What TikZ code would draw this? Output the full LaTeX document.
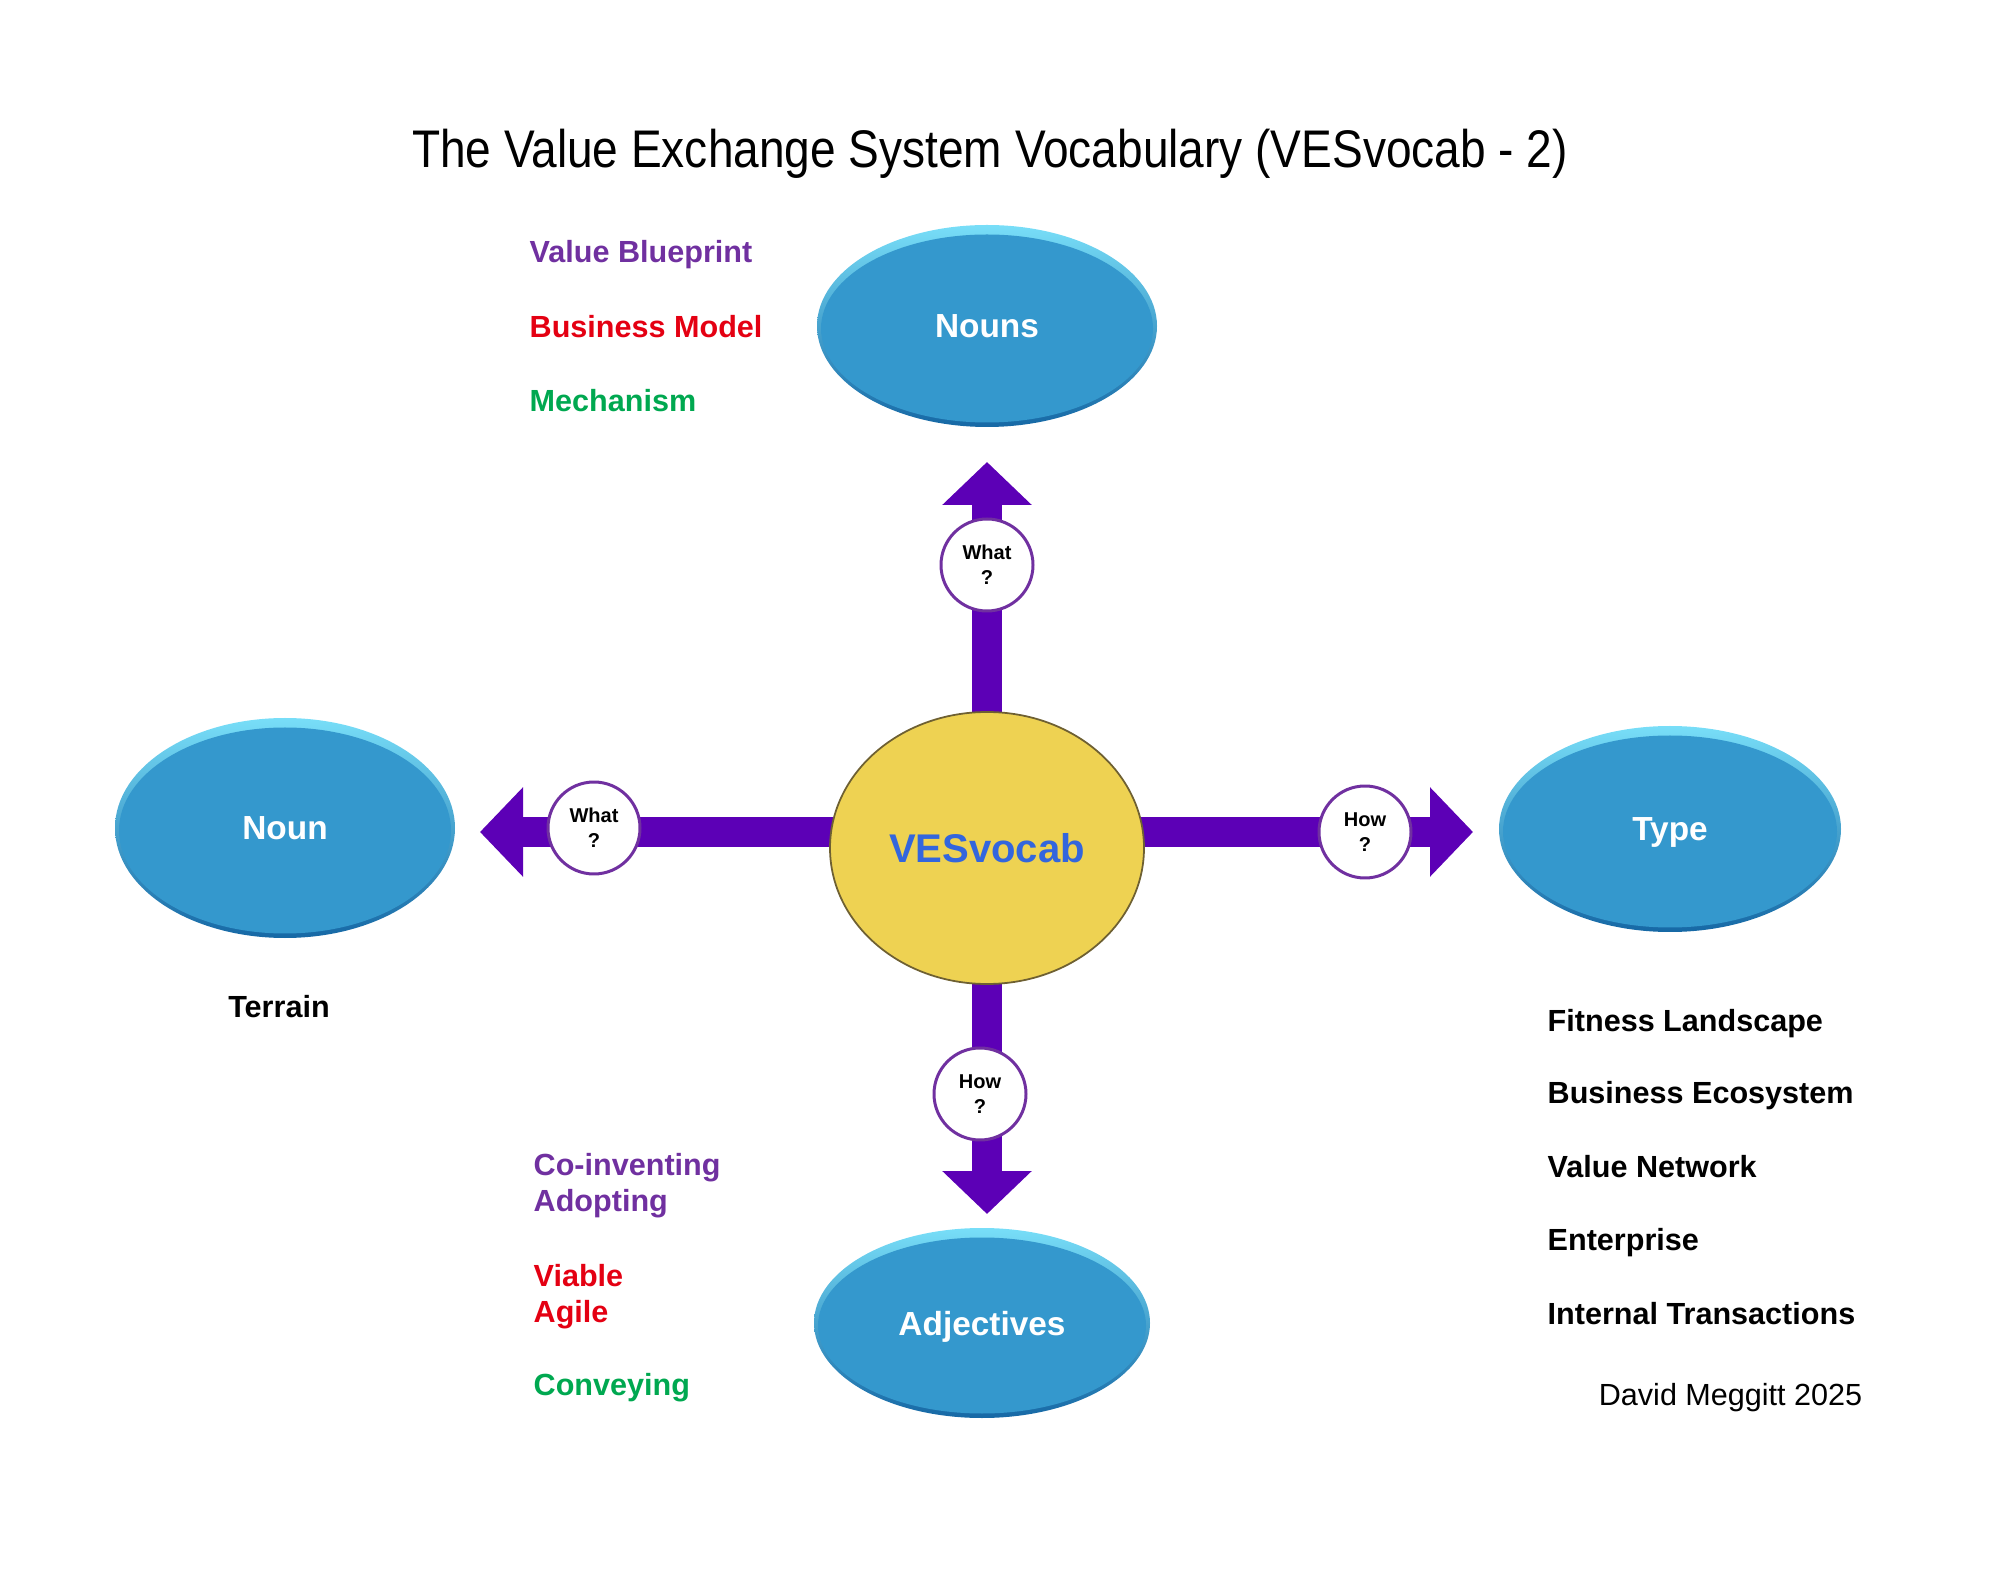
\documentclass[tikz,border=0pt]{standalone}
\usepackage{fontspec}
\setmainfont{Liberation Sans}
\usetikzlibrary{shapes,arrows.meta,backgrounds}

\definecolor{blobblue}{RGB}{52,152,205}
\definecolor{rimtop}{RGB}{120,222,248}
\definecolor{rimbot}{RGB}{22,104,165}
\definecolor{fatpurple}{RGB}{92,0,182}
\definecolor{ringpurple}{RGB}{112,48,160}
\definecolor{vesyellow}{RGB}{238,210,82}
\definecolor{vesedge}{RGB}{110,96,50}
\definecolor{vesblue}{RGB}{51,102,221}
\definecolor{listred}{RGB}{228,0,18}
\definecolor{listgreen}{RGB}{0,168,80}

\newcommand{\blob}[5]{%
  \shade[top color=rimtop,bottom color=rimbot] (#2) ellipse ({#3} and {#4});
  \fill[blobblue] (#2) ++(0,-0.025) ellipse ({#3-0.04} and {#4-0.07});
  \node[blobtext] (#1) at (#2) {#5};}

\begin{document}
\begin{tikzpicture}[
  blobtext/.style={text=white, font=\fontsize{9.5}{11}\selectfont\bfseries, text depth=0pt},
  ring/.style={circle, draw=ringpurple, line width=0.85pt, fill=white, minimum size=0.92cm, inner sep=0pt, align=center, font=\fontsize{5.7}{7.1}\selectfont\bfseries},
  fat/.style={fatpurple, line width=0.3cm, -{Triangle[length=0.43cm,width=0.87cm]}},
  item/.style={anchor=base west, inner sep=0pt, font=\fontsize{8.7}{10}\selectfont\bfseries}]
\useasboundingbox (0,0) rectangle (20,-15.71);

\node[anchor=base, inner sep=0pt] (title) at (9.90,-1.68) {\scalebox{1}[1.15]{\fontsize{13.1}{15}\selectfont The Value Exchange System Vocabulary (VESvocab - 2)}};

\blob{nouns}{9.87,-3.26}{1.70}{1.01}{Nouns}
\blob{noun}{2.85,-8.28}{1.70}{1.10}{Noun}
\blob{type}{16.70,-8.29}{1.71}{1.03}{Type}
\blob{adj}{9.82,-13.23}{1.68}{0.95}{Adjectives}

\node[ellipse, draw=vesedge, line width=0.5pt, fill=vesyellow, minimum width=3.14cm, minimum height=2.72cm, text=vesblue, font=\fontsize{11.4}{13}\selectfont\bfseries] (ves) at (9.87,-8.48) {VESvocab};

\coordinate (uptip) at (9.87,-4.62);
\coordinate (lefttip) at (4.80,-8.32);
\coordinate (righttip) at (14.73,-8.32);
\coordinate (downtip) at (9.87,-12.14);

\node[ring] (what1) at (9.87,-5.65) {What\\?};
\node[ring] (what2) at (5.94,-8.28) {What\\?};
\node[ring] (how1) at (13.65,-8.32) {How\\?};
\node[ring] (how2) at (9.80,-10.94) {How\\?};

\begin{scope}[on background layer]
\draw[fat] (ves.center) -- (uptip);
\draw[fat] (ves.center |- lefttip) -- (lefttip);
\draw[fat] (ves.center |- righttip) -- (righttip);
\draw[fat] (ves.center) -- (downtip);
\end{scope}

\node[item, text=ringpurple] (vb) at (5.29,-2.63) {Value Blueprint};
\node[item, text=listred] (bm) at (5.29,-3.38) {Business Model};
\node[item, text=listgreen] (mech) at (5.29,-4.12) {Mechanism};

\node[item, anchor=base] (terrain) at (2.79,-10.18) {Terrain};

\node[item] (fl) at (15.47,-10.31) {Fitness Landscape};
\node[item] (be) at (15.47,-11.03) {Business Ecosystem};
\node[item] (vn) at (15.47,-11.77) {Value Network};
\node[item] (ent) at (15.47,-12.50) {Enterprise};
\node[item] (it) at (15.47,-13.24) {Internal Transactions};
\node[anchor=base east, inner sep=0pt, font=\fontsize{8.7}{10}\selectfont] (dm) at (18.63,-14.05) {David Meggitt 2025};

\node[item, text=ringpurple] (coinv) at (5.33,-11.75) {Co-inventing};
\node[item, text=ringpurple] (adopt) at (5.33,-12.11) {Adopting};
\node[item, text=listred] (viable) at (5.33,-12.86) {Viable};
\node[item, text=listred] (agile) at (5.33,-13.22) {Agile};
\node[item, text=listgreen] (conv) at (5.33,-13.95) {Conveying};
\end{tikzpicture}
\end{document}
